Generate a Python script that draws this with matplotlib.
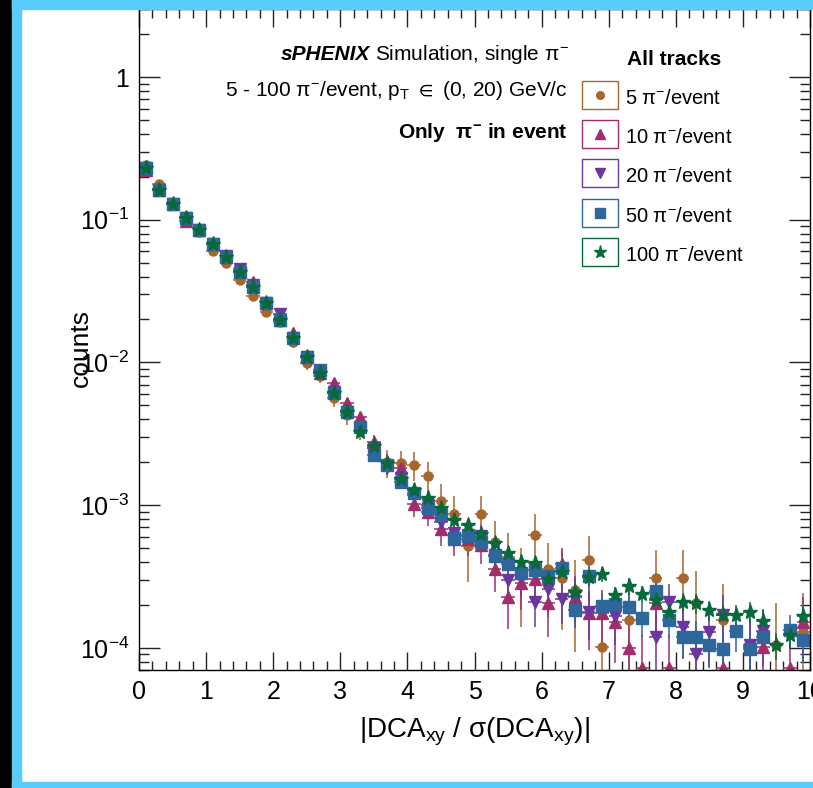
import numpy as np
import matplotlib
matplotlib.use('Agg')
import matplotlib.pyplot as plt
from matplotlib.patches import Rectangle
from matplotlib.lines import Line2D
from matplotlib.ticker import FixedLocator, FixedFormatter, MultipleLocator, LogLocator, NullFormatter

plt.rcParams['font.family'] = ['Liberation Sans', 'DejaVu Sans']
plt.rcParams['mathtext.fontset'] = 'custom'
plt.rcParams['mathtext.rm'] = 'Liberation Sans'
plt.rcParams['mathtext.it'] = 'Liberation Sans:italic'
plt.rcParams['mathtext.bf'] = 'Liberation Sans:bold'
plt.rcParams['mathtext.default'] = 'regular'

nan = np.nan

# ---------------- data ----------------
bin_edges = np.linspace(0, 10, 51)
bin_centers = 0.5 * (bin_edges[:-1] + bin_edges[1:])

series_labels = ['5 π$^{-}$/event', '10 π$^{-}$/event', '20 π$^{-}$/event',
                 '50 π$^{-}$/event', '100 π$^{-}$/event']

counts_5 = [0.242, 0.177, 0.128, 0.103, 0.082, 0.0607, 0.0494, 0.0378, 0.0292, 0.0227,
            0.0192, 0.0139, 0.00986, 0.00803, 0.00563, 0.00428, 0.00347, 0.00251, 0.0020, 0.00196,
            0.00191, 0.0016, 0.00107, 0.000867, 0.00052, 0.000867, 0.00055, 0.00043, 0.00032, 0.000617,
            0.000355, 0.000308, 0.000254, 0.000412, 0.000102, nan, 0.000157, nan, 0.000307, nan,
            0.000307, 0.000205, nan, 0.000157, nan, nan, nan, 0.000105, nan, 0.00013]
err_5 = [0.0049, 0.0042, 0.0036, 0.0032, 0.0029, 0.0025, 0.0022, 0.0019, 0.0017, 0.0015,
         0.0014, 0.0012, 0.00099, 0.0009, 0.00075, 0.00065, 0.00059, 0.0005, 0.00045, 0.00044,
         0.00044, 0.0004, 0.00033, 0.00029, 0.00023, 0.00029, 0.00023, 0.00021, 0.00018, 0.00025,
         0.00019, 0.000175, 0.00016, 0.0002, 0.0001, nan, 0.000125, nan, 0.000175, nan,
         0.000175, 0.000143, nan, 0.000125, nan, nan, nan, 0.0001, nan, 0.000114]

counts_10 = [0.223, 0.161, 0.128, 0.0984, 0.0847, 0.0676, 0.0545, 0.0432, 0.0368, 0.0259,
             0.0198, 0.0161, 0.011, 0.0084, 0.00714, 0.00522, 0.00412, 0.00278, 0.0020, 0.00183,
             0.00102, 0.0009, 0.00068, 0.00058, 0.00058, 0.00053, 0.000355, 0.000226, 0.000283, 0.000302,
             0.000205, 0.000385, 0.000228, 0.000175, 0.000176, 0.000152, 0.0001, 7.2e-5, 0.000205, 7.2e-5,
             nan, nan, nan, 7.2e-5, nan, 0.000102, 0.000102, nan, 7.2e-5, 0.000152]
err_10 = [0.0028, 0.0024, 0.0021, 0.0019, 0.0017, 0.0016, 0.0014, 0.0012, 0.0012, 0.00097,
          0.00084, 0.00076, 0.00063, 0.00055, 0.00051, 0.00043, 0.00039, 0.00032, 0.00027, 0.00026,
          0.00019, 0.00018, 0.00016, 0.00014, 0.00014, 0.00014, 0.00011, 9.0e-5, 0.0001, 0.0001,
          8.6e-5, 0.00012, 9.1e-5, 7.9e-5, 8.0e-5, 7.4e-5, 6.0e-5, 5.1e-5, 8.6e-5, 5.1e-5,
          nan, nan, nan, 5.1e-5, nan, 6.1e-5, 6.1e-5, nan, 5.1e-5, 7.4e-5]

counts_20 = [0.229, 0.161, 0.128, 0.103, 0.0847, 0.0676, 0.0561, 0.045, 0.0349, 0.0263,
             0.0218, 0.0148, 0.011, 0.0084, 0.0062, 0.00452, 0.0035, 0.0025, 0.00184, 0.00155,
             0.00118, 0.00101, 0.000765, 0.000634, 0.000617, 0.000606, 0.00045, 0.000299, 0.00032, 0.00021,
             0.00026, 0.000219, 0.00023, 0.000179, nan, 0.000167, nan, nan, 0.000119, 0.00021,
             0.000141, 9.05e-5, 0.00013, 0.000171, nan, 0.000105, 0.000131, nan, nan, nan]
err_20 = [0.0023, 0.002, 0.0018, 0.0016, 0.0014, 0.0013, 0.0012, 0.001, 0.00092, 0.00079,
          0.00072, 0.0006, 0.00051, 0.00045, 0.00039, 0.00033, 0.00029, 0.00024, 0.00021, 0.00019,
          0.00017, 0.00016, 0.00014, 0.00012, 0.00012, 0.00012, 0.0001, 8.5e-5, 8.8e-5, 7.1e-5,
          7.9e-5, 7.2e-5, 7.4e-5, 6.6e-5, nan, 6.3e-5, nan, nan, 5.3e-5, 7.1e-5,
          5.8e-5, 4.7e-5, 5.6e-5, 6.4e-5, nan, 5.0e-5, 5.6e-5, nan, nan, nan]

counts_50 = [0.229, 0.161, 0.128, 0.103, 0.0847, 0.0676, 0.0545, 0.0432, 0.0339, 0.0259,
             0.0198, 0.0148, 0.011, 0.00885, 0.00611, 0.00452, 0.00354, 0.00224, 0.00191, 0.00146,
             0.00122, 0.00096, 0.00085, 0.000585, 0.000606, 0.000554, 0.00044, 0.000385, 0.000336, 0.00035,
             0.000318, 0.000362, 0.000184, 0.000318, 0.000196, 0.000203, 0.000194, 0.000161, 0.00025, 0.000158,
             0.00012, 0.00012, 0.000105, 9.9e-5, 0.000131, 9.9e-5, 0.00012, nan, 0.000133, 0.000113]
err_50 = [0.00155, 0.0013, 0.00116, 0.00104, 0.00094, 0.00084, 0.00076, 0.00067, 0.0006, 0.00052,
          0.00046, 0.00039, 0.00034, 0.0003, 0.00025, 0.00022, 0.00019, 0.00015, 0.00014, 0.00012,
          0.00011, 0.0001, 9.4e-5, 7.8e-5, 8.0e-5, 7.6e-5, 6.8e-5, 6.4e-5, 5.9e-5, 6.1e-5,
          5.8e-5, 6.2e-5, 4.4e-5, 5.8e-5, 4.5e-5, 4.6e-5, 4.5e-5, 4.1e-5, 5.1e-5, 4.1e-5,
          3.5e-5, 3.5e-5, 3.3e-5, 3.2e-5, 3.7e-5, 3.2e-5, 3.5e-5, nan, 3.7e-5, 3.4e-5]

counts_100 = [0.229, 0.161, 0.128, 0.103, 0.0847, 0.0676, 0.0545, 0.0432, 0.0339, 0.0259,
              0.0198, 0.0148, 0.011, 0.0084, 0.00609, 0.00452, 0.00327, 0.00259, 0.00196, 0.00152,
              0.00128, 0.00112, 0.00095, 0.000787, 0.000726, 0.000624, 0.000545, 0.000464, 0.000401, 0.000394,
              0.000302, 0.000341, 0.000246, 0.000312, 0.000329, 0.000234, 0.000271, 0.000238, 0.000216, 0.000179,
              0.00021, 0.000205, 0.000184, 0.00017, 0.00017, 0.000179, 0.000155, 0.000105, 0.000123, 0.000167]
err_100 = [0.00107, 0.0009, 0.0008, 0.00072, 0.00065, 0.00058, 0.00052, 0.00046, 0.00041, 0.00036,
           0.00031, 0.00027, 0.00023, 0.0002, 0.00017, 0.00015, 0.00013, 0.00011, 9.9e-5, 8.7e-5,
           8.0e-5, 7.5e-5, 6.9e-5, 6.3e-5, 6.0e-5, 5.6e-5, 5.2e-5, 4.8e-5, 4.5e-5, 4.4e-5,
           3.9e-5, 4.1e-5, 3.5e-5, 3.9e-5, 4.1e-5, 3.4e-5, 3.7e-5, 3.4e-5, 3.3e-5, 3.0e-5,
           3.2e-5, 3.2e-5, 3.0e-5, 2.9e-5, 2.9e-5, 3.0e-5, 2.8e-5, 2.3e-5, 2.5e-5, 2.9e-5]

x_tick_values = [0, 1, 2, 3, 4, 5, 6, 7, 8, 9, 10]
x_tick_labels = ['0', '1', '2', '3', '4', '5', '6', '7', '8', '9', '10']
y_tick_values = [1e-4, 1e-3, 1e-2, 1e-1, 1]
y_tick_labels = ['$10^{-4}$', '$10^{-3}$', '$10^{-2}$', '$10^{-1}$', '1']

all_counts = [counts_5, counts_10, counts_20, counts_50, counts_100]
all_errs = [err_5, err_10, err_20, err_50, err_100]

# ---------------- style ----------------
colors = ['#a8662f', '#a02e6c', '#6b379f', '#2f669c', '#086a3b']
markers = ['o', '^', 'v', 's', '*']
msizes = [6.5, 8.5, 8.5, 8.0, 11.0]
leg_msizes = [5.5, 7.5, 7.5, 6.5, 9.5]

W, H = 813, 788
fig = plt.figure(figsize=(W / 100, H / 100), dpi=100)
fig.patch.set_facecolor('white')


def fx(px):
    return px / W


def fy(py):
    return 1 - py / H


ax = fig.add_axes([fx(139), fy(670), fx(810) - fx(139), fy(8.5) - fy(670)])
ax.set_yscale('log', nonpositive='clip')
ax.set_xlim(0, 10)
ax.set_ylim(7.0e-5, 3.02)

for cnt, err, c, m, ms in zip(all_counts, all_errs, colors, markers, msizes):
    ax.errorbar(bin_centers, cnt, yerr=err, xerr=0.1, fmt=m, color=c, mfc=c, mec=c,
                ms=ms, elinewidth=1.1, capsize=0, ecolor=c)

ax.xaxis.set_major_locator(FixedLocator(x_tick_values))
ax.xaxis.set_major_formatter(FixedFormatter(x_tick_labels))
ax.xaxis.set_minor_locator(MultipleLocator(0.2))
ax.yaxis.set_major_locator(FixedLocator(y_tick_values))
ax.yaxis.set_major_formatter(FixedFormatter(y_tick_labels))
ax.yaxis.set_minor_locator(LogLocator(base=10, subs=np.arange(2, 10)))
ax.yaxis.set_minor_formatter(NullFormatter())

ax.tick_params(which='both', direction='in', top=True, right=True, width=1.0, color='#222222')
ax.tick_params(axis='x', which='major', length=13, labelsize=18, pad=7)
ax.tick_params(axis='x', which='minor', length=6.5)
ax.tick_params(axis='y', which='major', length=15, labelsize=18, pad=7)
ax.tick_params(axis='y', which='minor', length=7.5)
for sp in ax.spines.values():
    sp.set_linewidth(1.0)

# axis titles
fig.text(fx(474), fy(737), '|DCA$_{xy}$ / σ(DCA$_{xy}$)|', ha='center', va='baseline', fontsize=20)
fig.text(fx(81), fy(348), 'counts', ha='center', va='center', rotation=90, fontsize=19)

# annotation texts
FS = 15
t1 = fig.text(fx(569), fy(60), 'Simulation, single π$^{-}$', ha='right', va='baseline', fontsize=FS)
fig.text(fx(568), fy(96), '5 - 100 π$^{-}$/event, p$_{T}$ $\\in$ (0, 20) GeV/c',
         ha='right', va='baseline', fontsize=FS)
fig.text(fx(568), fy(138), 'Only  π$^{-}$ in event', ha='right', va='baseline',
         fontsize=FS, fontweight='bold')
fig.canvas.draw()
bb = t1.get_window_extent()
fig.text((bb.x0 - 5) / W, fy(60), 'sPHENIX', ha='right', va='baseline', fontsize=FS,
         fontweight='bold', style='italic')

# legend
fig.text(fx(627), fy(65), 'All tracks', ha='left', va='baseline', fontsize=FS, fontweight='bold')
for i, (lab, c, m, lms) in enumerate(zip(series_labels, colors, markers, leg_msizes)):
    cy = 95 + 39.2 * i
    fig.add_artist(Rectangle((fx(582), fy(cy + 14)), (618 - 582) / W, 28 / H,
                             transform=fig.transFigure, fill=False, ec=c, lw=1.0))
    fig.add_artist(Line2D([fx(600)], [fy(cy)], marker=m, color=c, mfc=c, mec=c, ms=lms,
                          linestyle='none', transform=fig.transFigure))
    fig.text(fx(625), fy(cy + 9), lab, ha='left', va='baseline', fontsize=14.5)

# canvas frame
frame_blue = '#58cdfb'
fig.add_artist(Rectangle((0, 0), fx(12), 1, transform=fig.transFigure, color='black', zorder=20))
fig.add_artist(Rectangle((fx(12), fy(8.5)), 1, 8.5 / H, transform=fig.transFigure, color=frame_blue, zorder=20))
fig.add_artist(Rectangle((fx(12), 0), 9 / W, 1, transform=fig.transFigure, color=frame_blue, zorder=20))
fig.add_artist(Rectangle((fx(12), 0), 1, 6 / H, transform=fig.transFigure, color=frame_blue, zorder=20))

fig.savefig('out.png', dpi=100)
